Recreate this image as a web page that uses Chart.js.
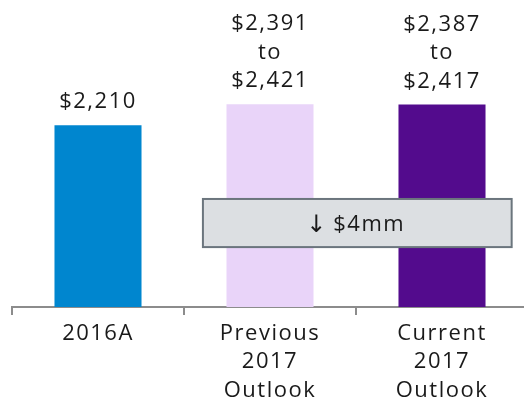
<!DOCTYPE html>
<html>
<head>
<meta charset="utf-8">
<script src="https://cdn.jsdelivr.net/npm/chart.js@4"></script>
<style>
  html, body { margin: 0; padding: 0; overflow: hidden; background: #fff; }
  #wrap { width: 528px; height: 405px; position: relative; }
</style>
</head>
<body>
<div id="wrap"><canvas id="myChart"></canvas></div>
<script>
const categories = [['2016A'], ['Previous', '2017', 'Outlook'], ['Current', '2017', 'Outlook']];
const lowValues = [2210, 2391, 2387];
const highValues = [2210, 2421, 2417];
const barValues = [2210, 2406, 2402];
const valueLabels = [['$2,210'], ['$2,391', 'to', '$2,421'], ['$2,387', 'to', '$2,417']];
const barColors = ['#0086CF', '#E9D4F9', '#530B8D'];
const changeArrow = '\u2193';
const changeText = '$4mm';

const FONT = '"Open Sans", sans-serif';

const spacingPlugin = {
    id: 'spacing',
    beforeDraw(chart) {
        chart.ctx.letterSpacing = '1.5px';
    }
};

const labelPlugin = {
    id: 'labels',
    afterDatasetsDraw(chart) {
        const ctx = chart.ctx;
        const meta = chart.getDatasetMeta(0);
        ctx.save();
        ctx.fillStyle = '#1a1a1a';
        ctx.font = '22px ' + FONT;
        ctx.textAlign = 'center';
        ctx.textBaseline = 'alphabetic';
        meta.data.forEach((bar, i) => {
            const lines = valueLabels[i];
            lines.forEach((line, j) => {
                const y = bar.y - 17 - (lines.length - 1 - j) * 28.5;
                ctx.fillText(line, bar.x, y);
            });
        });

        // change box over the two outlook bars
        const xs = chart.scales.x;
        const ys = chart.scales.y;
        const step = xs.getPixelForValue(1) - xs.getPixelForValue(0);
        const left = xs.getPixelForValue(1) - 0.39 * step;
        const right = xs.getPixelForValue(2) + 0.405 * step;
        const top = ys.getPixelForValue(1520);
        const bottom = ys.getPixelForValue(1070);
        ctx.fillStyle = '#DCDFE2';
        ctx.strokeStyle = '#6B757D';
        ctx.lineWidth = 2;
        ctx.fillRect(left, top, right - left, bottom - top);
        ctx.strokeRect(left, top, right - left, bottom - top);
        ctx.fillStyle = '#1a1a1a';
        ctx.textBaseline = 'alphabetic';
        const cx = (left + right) / 2;
        const base = (top + bottom) / 2 + 8;
        ctx.textAlign = 'left';
        ctx.fillText(changeText, cx - 24, base);
        ctx.textAlign = 'center';
        ctx.font = '24px "DejaVu Sans", sans-serif';
        ctx.letterSpacing = '0px';
        ctx.fillText(changeArrow, cx - 41, base + 1);
        ctx.restore();
    }
};

new Chart(document.getElementById('myChart'), {
    type: 'bar',
    data: {
        labels: categories,
        datasets: [{
            data: barValues,
            backgroundColor: barColors,
            borderWidth: 0,
            categoryPercentage: 1,
            barPercentage: 0.506
        }]
    },
    options: {
        responsive: true,
        maintainAspectRatio: false,
        animation: false,
        layout: { padding: { left: 12, right: 0, top: 0, bottom: 0 } },
        plugins: {
            legend: { display: false },
            tooltip: { enabled: false }
        },
        scales: {
            y: {
                display: false,
                min: 510,
                max: 3380
            },
            x: {
                afterFit: (s) => { s.height = 98; },
                border: { display: true, color: '#8c8c8c', width: 2 },
                grid: {
                    offset: true,
                    drawOnChartArea: false,
                    drawTicks: true,
                    tickLength: 8,
                    color: '#8c8c8c',
                    lineWidth: 2
                },
                ticks: {
                    color: '#1a1a1a',
                    padding: 4,
                    maxRotation: 0,
                    font: { family: FONT, size: 22, lineHeight: 1.3 }
                }
            }
        }
    },
    plugins: [spacingPlugin, labelPlugin]
});
</script>
</body>
</html>
